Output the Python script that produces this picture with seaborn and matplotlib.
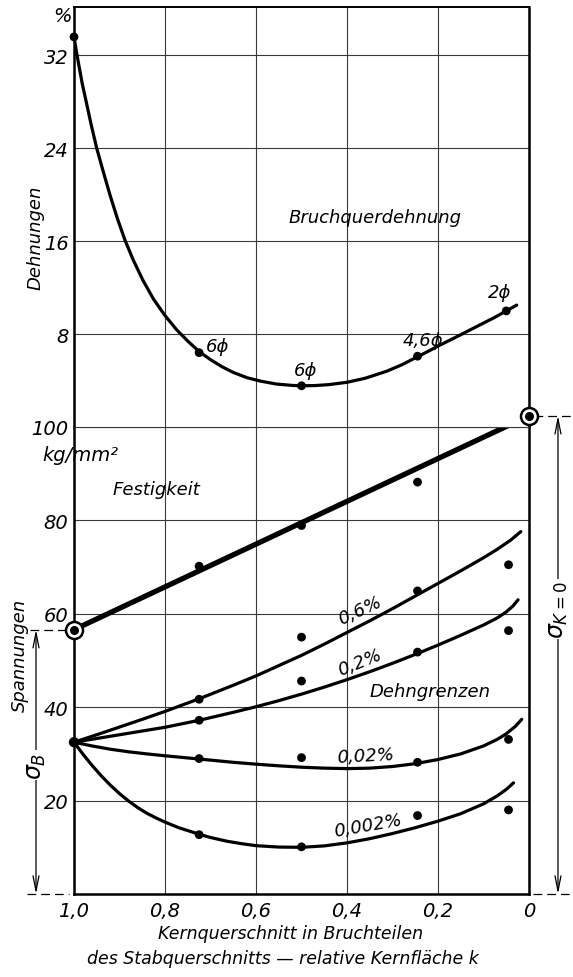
import numpy as np
import pandas as pd
import matplotlib
matplotlib.use("Agg")
import matplotlib.pyplot as plt
import matplotlib.transforms as mtransforms
import seaborn as sns

# ---------------------------------------------------------------- data
# relative Kernfläche k of the tested bars
k_points = [0.725, 0.5, 0.245, 0.045]

# Bruchquerdehnung (%), with bar diameter notes
k_dehnung = [1.0, 0.725, 0.5, 0.245, 0.05]
dehnung = [33.6, 6.4, 3.55, 6.1, 10.0]
dehnung_labels = ["", "6ϕ", "6ϕ", "4,6ϕ", "2ϕ"]

# faired curve through the Bruchquerdehnung values
k_dehnung_curve = [1.0, 0.995, 0.99, 0.982, 0.972, 0.962, 0.95, 0.935, 0.921,
                   0.905, 0.888, 0.87, 0.848, 0.825, 0.8, 0.775, 0.75, 0.725,
                   0.7, 0.675, 0.65, 0.62, 0.59, 0.555, 0.52, 0.5, 0.47, 0.44,
                   0.4, 0.36, 0.313, 0.28, 0.245, 0.22, 0.196, 0.16, 0.13,
                   0.1, 0.075, 0.05, 0.027]
dehnung_curve = [33.6, 32.4, 31.3, 29.6, 27.8, 26.0, 24.0, 21.9, 20.0,
                 18.0, 16.1, 14.4, 12.6, 11.0, 9.6, 8.4, 7.4, 6.5,
                 5.8, 5.2, 4.7, 4.25, 3.95, 3.7, 3.58, 3.55, 3.57, 3.65,
                 3.85, 4.2, 4.8, 5.35, 6.05, 6.55, 7.05, 7.75, 8.35,
                 8.95, 9.45, 10.0, 10.5]

# Festigkeit (kg/mm²)
festigkeit = [70.2, 78.9, 88.2, 101.8]
sigma_b = 56.6      # k = 1 (Kern allein)
sigma_k0 = 102.4    # k = 0 (ohne Kern)

# Dehngrenzen (kg/mm²), measured
grenze_start = 32.5  # common value at k = 1
grenze_06 = [41.7, 55.0, 64.9, 70.5]
grenze_02 = [37.2, 45.6, 51.8, 56.4]
grenze_002 = [29.0, 29.2, 28.2, 33.1]
grenze_0002 = [12.7, 10.1, 16.8, 18.0]

# faired Dehngrenzen curves
k_06_curve = [1.0, 0.95, 0.9, 0.85, 0.8, 0.725, 0.65, 0.6, 0.55, 0.5, 0.45,
              0.4, 0.35, 0.3, 0.25, 0.2, 0.15, 0.1, 0.07, 0.04, 0.018]
g06_curve = [32.5, 34.1, 35.75, 37.4, 39.1, 41.8, 44.7, 46.7, 48.9, 51.1, 53.5,
             56.0, 58.5, 61.1, 63.8, 66.5, 69.2, 72.0, 73.8, 75.8, 77.6]

k_02_curve = [1.0, 0.95, 0.9, 0.85, 0.8, 0.725, 0.65, 0.6, 0.55, 0.5, 0.45,
              0.4, 0.35, 0.3, 0.245, 0.2, 0.15, 0.1, 0.07, 0.05, 0.035, 0.024]
g02_curve = [32.5, 33.3, 34.1, 34.9, 35.7, 37.2, 38.9, 40.1, 41.4, 42.8, 44.3,
             45.9, 47.6, 49.4, 51.5, 53.3, 55.4, 57.6, 59.1, 60.4, 61.7, 63.0]

k_002_curve = [1.0, 0.96, 0.92, 0.88, 0.84, 0.8, 0.725, 0.65, 0.6, 0.55, 0.5,
               0.45, 0.4, 0.35, 0.3, 0.25, 0.2, 0.15, 0.1, 0.07, 0.05, 0.03, 0.016]
g002_curve = [32.5, 31.7, 31.0, 30.45, 30.0, 29.6, 28.9, 28.2, 27.8, 27.45, 27.15,
              26.95, 26.85, 26.95, 27.3, 27.9, 28.8, 30.0, 31.7, 33.1, 34.3, 35.9, 37.4]

k_0002_curve = [1.0, 0.98, 0.96, 0.94, 0.92, 0.9, 0.88, 0.86, 0.84, 0.82, 0.8,
                0.77, 0.725, 0.7, 0.664, 0.63, 0.6, 0.55, 0.5, 0.45, 0.4, 0.35,
                0.3, 0.25, 0.2, 0.15, 0.1, 0.07, 0.05, 0.034]
g0002_curve = [32.5, 29.9, 27.5, 25.3, 23.3, 21.5, 19.9, 18.5, 17.3, 16.3, 15.4,
               14.2, 12.8, 12.1, 11.3, 10.75, 10.35, 10.05, 10.0, 10.3, 10.95, 11.85,
               12.95, 14.2, 15.6, 17.2, 19.3, 21.0, 22.4, 23.8]

x_ticks = [1.0, 0.8, 0.6, 0.4, 0.2, 0.0]
x_ticklabels = ["1,0", "0,8", "0,6", "0,4", "0,2", "0"]
y_ticks_top = [8, 16, 24, 32]
y_ticks_bot = [20, 40, 60, 80, 100]

# ---------------------------------------------------------------- style
sns.set_theme(style="white")
plt.rcParams["font.family"] = ["DejaVu Sans"]
plt.rcParams["mathtext.fontset"] = "dejavusans"
INK = "black"
GRID = "#3a3a3a"

W_PX, H_PX = 573, 978
fig = plt.figure(figsize=(W_PX / 100, H_PX / 100), dpi=100)

left, width = 74 / W_PX, 455 / W_PX
ax_top = fig.add_axes([left, 1 - 428 / H_PX, width, 420 / H_PX])
ax_bot = fig.add_axes([left, 1 - 895 / H_PX, width, 467 / H_PX], sharex=ax_top)

ax_top.set_ylim(0, 420 / 11.61)
ax_bot.set_ylim(0, 100)
ax_bot.set_xlim(1.0, 0.0)

for ax in (ax_top, ax_bot):
    ax.set_xticks(x_ticks)
    ax.grid(True, color=GRID, linewidth=0.8)
    ax.set_axisbelow(True)
    ax.tick_params(length=0, pad=4, labelsize=14, colors=INK)
    for s in ax.spines.values():
        s.set_color(INK)
    ax.spines["left"].set_linewidth(1.8)
    ax.spines["right"].set_linewidth(1.8)

ax_top.spines["top"].set_linewidth(1.4)
ax_top.spines["bottom"].set_visible(False)
ax_bot.spines["top"].set_linewidth(0.8)
ax_bot.spines["top"].set_color(GRID)
ax_bot.spines["bottom"].set_linewidth(1.8)

ax_top.set_yticks(y_ticks_top)
ax_top.set_yticklabels([str(v) for v in y_ticks_top], fontstyle="italic")
ax_top.tick_params(axis="x", labelbottom=False)
ax_bot.set_yticks(y_ticks_bot)
ax_bot.set_yticklabels([str(v) for v in y_ticks_bot], fontstyle="italic")
ax_bot.set_xticklabels(x_ticklabels, fontstyle="italic")
ax_bot.tick_params(axis="x", pad=5)

# ---------------------------------------------------------------- Dehnungen
sns.lineplot(x=k_dehnung_curve, y=dehnung_curve, ax=ax_top, color=INK, lw=2.3,
             sort=False, estimator=None)
sns.scatterplot(x=k_dehnung, y=dehnung, ax=ax_top, color=INK, s=40,
                edgecolor="none", zorder=5, clip_on=False)
ax_top.set_xlabel("")
ax_top.set_ylabel("")

txt = dict(fontstyle="italic", color=INK)
label_xy = [None, (0.684, 7.0), (0.492, 4.9), (0.233, 7.5), (0.064, 11.6)]
for lab, pos in zip(dehnung_labels, label_xy):
    if lab:
        ax_top.text(pos[0], pos[1], lab, ha="center", va="center", fontsize=13, **txt)
ax_top.text(0.338, 18.1, "Bruchquerdehnung", ha="center", va="center", fontsize=13, **txt)

# ---------------------------------------------------------------- Spannungen
sns.lineplot(x=[1.0, 0.0], y=[sigma_b, sigma_k0], ax=ax_bot, color=INK, lw=3.8,
             sort=False, estimator=None)
sns.scatterplot(x=k_points, y=festigkeit, ax=ax_bot, color=INK, s=40,
                edgecolor="none", zorder=5)

curves = [(k_06_curve, g06_curve), (k_02_curve, g02_curve),
          (k_002_curve, g002_curve), (k_0002_curve, g0002_curve)]
for kc, gc in curves:
    sns.lineplot(x=kc, y=gc, ax=ax_bot, color=INK, lw=2.3, sort=False, estimator=None)

for vals in (grenze_06, grenze_02, grenze_002, grenze_0002):
    sns.scatterplot(x=k_points, y=vals, ax=ax_bot, color=INK, s=40,
                    edgecolor="none", zorder=5)
sns.scatterplot(x=[1.0], y=[grenze_start], ax=ax_bot, color=INK, s=55,
                edgecolor="none", zorder=6, clip_on=False)
ax_bot.set_xlabel("")
ax_bot.set_ylabel("")

# ringed end values σB and σK=0
for kk, vv in ((1.0, sigma_b), (0.0, sigma_k0)):
    ax_bot.scatter([kk], [vv], s=150, facecolor="white", edgecolor=INK,
                   linewidth=1.8, zorder=7, clip_on=False)
    ax_bot.scatter([kk], [vv], s=30, color=INK, zorder=8, clip_on=False)

ax_bot.text(0.82, 86.7, "Festigkeit", ha="center", va="center", fontsize=13, **txt)
ax_bot.text(0.371, 60.8, "0,6%", ha="center", va="center", fontsize=13, rotation=25, **txt)
ax_bot.text(0.371, 49.6, "0,2%", ha="center", va="center", fontsize=13, rotation=22, **txt)
ax_bot.text(0.218, 43.5, "Dehngrenzen", ha="center", va="center", fontsize=13, **txt)
ax_bot.text(0.36, 29.6, "0,02%", ha="center", va="center", fontsize=13, rotation=3, **txt)
ax_bot.text(0.354, 14.8, "0,002%", ha="center", va="center", fontsize=13, rotation=10, **txt)

# dimension arrows for σB (left) and σK=0 (right)
tr = mtransforms.blended_transform_factory(ax_bot.transAxes, ax_bot.transData)
arrow = dict(arrowstyle="<->,head_length=0.9,head_width=0.18", lw=0.9, color=INK,
             shrinkA=0, shrinkB=0)
ax_bot.annotate("", xy=(-0.0835, 0), xytext=(-0.0835, sigma_b), xycoords=tr,
                textcoords=tr, arrowprops=arrow, annotation_clip=False)
ax_bot.annotate("", xy=(1.0637, 0), xytext=(1.0637, sigma_k0), xycoords=tr,
                textcoords=tr, arrowprops=arrow, annotation_clip=False)
dash = dict(color=INK, lw=0.9, ls=(0, (7, 4)), transform=tr, clip_on=False)
ax_bot.plot([-0.097, -0.01], [sigma_b, sigma_b], **dash)
ax_bot.plot([-0.103, -0.012], [0, 0], **dash)
ax_bot.plot([1.01, 1.097], [sigma_k0, sigma_k0], **dash)
ax_bot.plot([1.008, 1.097], [0, 0], **dash)

box = dict(facecolor="white", edgecolor="none", pad=1.0)
ax_bot.text(-0.0835, 27.6, r"$\sigma_B$", transform=tr, rotation=90, ha="center",
            va="center", fontsize=17, color=INK, bbox=box)
ax_bot.text(1.0637, 61.0, r"$\sigma_{K=0}$", transform=tr, rotation=90, ha="center",
            va="center", fontsize=17, color=INK, bbox=box)

# ---------------------------------------------------------------- axis titles
fig.text(62 / W_PX, 1 - 16 / H_PX, "%", ha="center", va="center", fontsize=14, **txt)
fig.text(36 / W_PX, 1 - 238 / H_PX, "Dehnungen", rotation=90, ha="center",
         va="center", fontsize=13, **txt)
fig.text(42 / W_PX, 1 - 456 / H_PX, "kg/mm²", ha="left", va="center", fontsize=14, **txt)
fig.text(20 / W_PX, 1 - 655 / H_PX, "Spannungen", rotation=90, ha="center",
         va="center", fontsize=13, **txt)
fig.text(291 / W_PX, 1 - 934 / H_PX, "Kernquerschnitt in Bruchteilen",
         ha="center", va="center", fontsize=12.5, **txt)
fig.text(283 / W_PX, 1 - 959 / H_PX, "des Stabquerschnitts — relative Kernfläche k",
         ha="center", va="center", fontsize=12.5, **txt)

fig.savefig("out.png", dpi=100)
